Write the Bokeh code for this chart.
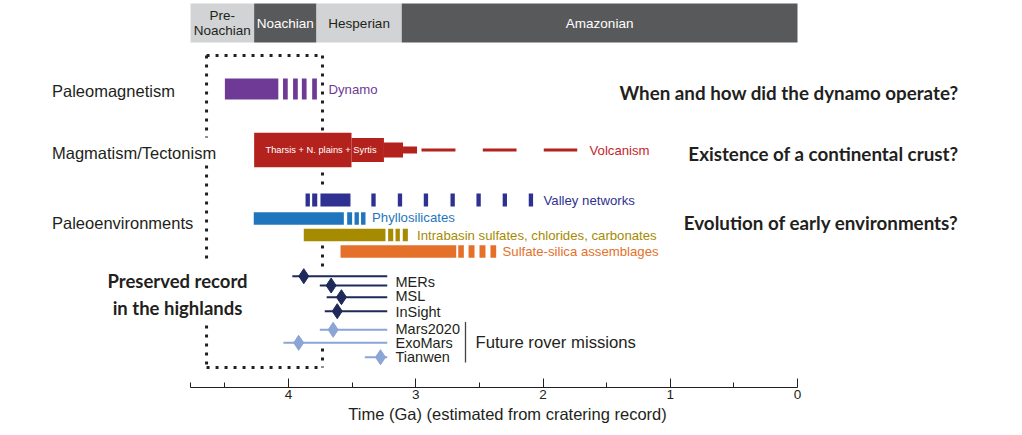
from bokeh.plotting import figure
from bokeh.models import Range1d, LinearAxis, FixedTicker
from bokeh.embed import file_html
from bokeh.resources import INLINE
from bokeh.core.properties import value

# ---------------- data (ages in Ga) ----------------
period_names = ["Pre-\nNoachian", "Noachian", "Hesperian", "Amazonian"]
period_start = [4.77, 4.27, 3.78, 3.11]
period_end = [4.27, 3.78, 3.11, 0.0]

dynamo_start = [4.50, 4.043, 3.964, 3.895, 3.814]
dynamo_end = [4.08, 4.006, 3.927, 3.858, 3.777]

magma_start = [4.27, 3.505, 3.25, 3.10]
magma_end = [3.505, 3.25, 3.10, 2.99]
magma_level = [1.0, 0.70, 0.44, 0.20]

volc_start = [2.955, 2.473, 1.994]
volc_end = [2.688, 2.208, 1.731]

valley_start = [3.866, 3.814, 3.749, 3.349, 3.141, 2.937, 2.727, 2.523, 2.317, 2.112]
valley_end = [3.832, 3.774, 3.513, 3.315, 3.107, 2.903, 2.693, 2.489, 2.283, 2.078]

phyllo_start = [4.273, 3.539, 3.481, 3.430]
phyllo_end = [3.565, 3.500, 3.447, 3.395]

intra_start = [3.880, 3.217, 3.159, 3.102]
intra_end = [3.238, 3.177, 3.125, 3.062]

sulf_start = [3.591, 2.666, 2.585, 2.499, 2.413]
sulf_end = [2.682, 2.622, 2.538, 2.452, 2.368]

mission_names = ["MERs", "MERs", "MSL", "InSight", "Mars2020", "ExoMars", "Tianwen"]
mission_future = [False, False, False, False, True, True, True]
mission_site_age = [3.88, 3.665, 3.584, 3.617, 3.649, 3.92, 3.277]
mission_old = [3.97, 3.754, 3.70, 3.715, 3.754, 4.04, 3.40]
mission_young = [3.224, 3.224, 3.224, 3.224, 3.224, 3.224, 3.224]
mission_label_names = ["MERs", "MSL", "InSight", "Mars2020", "ExoMars", "Tianwen"]

row_labels = ["Paleomagnetism", "Magmatism/Tectonism", "Paleoenvironments"]
questions = ["When and how did the dynamo operate?",
             "Existence of a continental crust?",
             "Evolution of early environments?"]

tick_values = [0, 1, 2, 3, 4]
minor_tick_values = [0.5, 1.5, 2.5, 3.5, 4.5, 4.77]
highland_box = (4.644, 3.733)   # preserved highland record (Ga)

# ---------------- layout / style ----------------
PX_PER_GA = 127.25
X4_PX = 288.0              # canvas x of 4 Ga
W, H = 1014, 427
AXIS_Y = 387
x_left = 4 + X4_PX / PX_PER_GA
x_right = 4 - (W - X4_PX) / PX_PER_GA

def gx(px):   # canvas pixel x -> Ga (for text anchors only)
    return 4 - (px - X4_PX) / PX_PER_GA

SANS = value("Liberation Sans")
BOLD = value("Lato")
LIGHT, DARK = "#d1d3d4", "#58595b"
INK = "#231f20"

p = figure(width=W, height=H, x_range=Range1d(x_left, x_right), y_range=Range1d(AXIS_Y, 0),
           output_backend="svg", toolbar_location=None,
           x_axis_location=None, y_axis_location=None,
           min_border_left=0, min_border_right=0, min_border_top=0,
           min_border_bottom=H - AXIS_Y)
p.outline_line_color = None
p.xgrid.visible = False
p.ygrid.visible = False
p.background_fill_color = "white"

# period bar
pf = [LIGHT, DARK, LIGHT, DARK]
pt = [INK, "white", INK, "white"]
p.quad(left=period_start, right=period_end, top=3, bottom=42, fill_color=pf, line_color=None)
p.text(x=[(a + b) / 2 for a, b in zip(period_start, period_end)], y=[22.5] * 4, text=period_names,
       text_font=SANS, text_font_size="13.5px", text_color=pt, text_align="center",
       text_baseline="middle", text_line_height=1.04)

# dotted highland box
bx0, bx1 = highland_box
seg = dict(x0=[bx0, bx0, bx0, bx0, bx0, bx1, bx1, bx1],
           y0=[55, 55, 165, 325, 367, 55, 245, 348],
           x1=[bx1, bx0, bx0, bx0, bx1, bx1, bx1, bx1],
           y1=[55, 137, 262, 367, 367, 187, 268, 367])
p.segment(**seg, line_color=INK, line_width=3, line_dash="3 6")

# rows
Y_DYN, Y_MAG, Y_VAL, Y_PHY, Y_INT, Y_SUL = 88.5, 149.5, 199.5, 218, 234.5, 251

def bars(xs, xe, y, h, color):
    p.quad(left=xs, right=xe, top=y - h / 2, bottom=y + h / 2, fill_color=color, line_color=None)

bars(dynamo_start, dynamo_end, Y_DYN, 21, "#6f3a96")
MAG_H = 34.5
p.quad(left=magma_start, right=magma_end,
       top=[Y_MAG - MAG_H * l / 2 for l in magma_level],
       bottom=[Y_MAG + MAG_H * l / 2 for l in magma_level],
       fill_color="#b3221c", line_color=None)
bars(volc_start, volc_end, Y_MAG, 3, "#b3221c")
bars(valley_start, valley_end, Y_VAL, 13, "#2e3192")
bars(phyllo_start, phyllo_end, Y_PHY, 12.5, "#1f76bd")
bars(intra_start, intra_end, Y_INT, 12.5, "#a68a00")
bars(sulf_start, sulf_end, Y_SUL, 12.5, "#e5702a")

p.text(x=[gx(265)], y=[Y_MAG], text=["Tharsis + N. plains + Syrtis"], text_font=SANS,
       text_font_size="9.3px", text_color="white", text_baseline="middle")

lab_x = [gx(328), gx(589), gx(543), gx(371.5), gx(416.5), gx(502)]
lab_y = [Y_DYN, Y_MAG, Y_VAL, Y_PHY - 1, Y_INT, Y_SUL]
lab_t = ["Dynamo", "Volcanism", "Valley networks", "Phyllosilicates",
         "Intrabasin sulfates, chlorides, carbonates", "Sulfate-silica assemblages"]
lab_c = ["#6f3a96", "#c4262e", "#2e3192", "#1f76bd", "#a68a00", "#e5702a"]
p.text(x=lab_x, y=lab_y, text=lab_t, text_color=lab_c, text_font=SANS, text_font_size="13.2px",
       text_baseline="middle")

# row labels & questions
p.text(x=[gx(51.5)] * 3, y=[90, 152.5, 222], text=row_labels, text_font=SANS,
       text_font_size="16.5px", text_color=INK, text_baseline="middle")
p.text(x=[gx(958)] * 3, y=[91.5, 153, 221.5], text=questions, text_font=BOLD,
       text_font_style="bold", text_font_size="18.8px", text_color=INK, text_baseline="middle",
       text_align="right")
p.text(x=[gx(177)], y=[294], text=["Preserved record\nin the highlands"], text_font=BOLD,
       text_font_style="bold", text_font_size="18.5px", text_color=INK, text_baseline="middle",
       text_align="center", text_line_height=1.2)

# missions
mission_y = [275.7, 285, 296.7, 310.7, 329.3, 342.3, 356.7]
mc = ["#8aa5d6" if f else "#1d2a5a" for f in mission_future]
p.segment(x0=mission_old, y0=mission_y, x1=mission_young, y1=mission_y, line_color=mc, line_width=2)
p.scatter(x=mission_site_age, y=mission_y, marker="diamond", size=15, fill_color=mc, line_color=mc)
p.text(x=[gx(395)] * 6, y=[281.5, 295.5, 311, 328.5, 342, 356], text=mission_label_names,
       text_font=SANS, text_font_size="14.5px", text_color=INK, text_baseline="middle",
       text_line_height=1.0)
p.segment(x0=[gx(465)], y0=[321.5], x1=[gx(465)], y1=[362], line_color="#444444", line_width=1.3)
p.text(x=[gx(475)], y=[342], text=["Future rover missions"], text_font=SANS,
       text_font_size="16.7px", text_color=INK, text_baseline="middle")

# axis
ax = LinearAxis(bounds=(0, 4.77),
                ticker=FixedTicker(ticks=tick_values, minor_ticks=minor_tick_values),
                axis_label="Time (Ga) (estimated from cratering record)")
ax.major_tick_in = 9
ax.major_tick_out = 0
ax.minor_tick_in = 5
ax.minor_tick_out = 0
ax.axis_line_color = INK
ax.major_tick_line_color = INK
ax.minor_tick_line_color = INK
ax.major_label_text_font = "Liberation Sans"
ax.major_label_text_font_size = "13.5px"
ax.major_label_text_color = INK
ax.major_label_standoff = 2
ax.axis_label_text_font = "Liberation Sans"
ax.axis_label_text_font_size = "16.5px"
ax.axis_label_text_font_style = "normal"
ax.axis_label_text_color = INK
ax.axis_label_standoff = 3
p.add_layout(ax, "below")

open("out.html", "w").write(file_html(p, INLINE))
